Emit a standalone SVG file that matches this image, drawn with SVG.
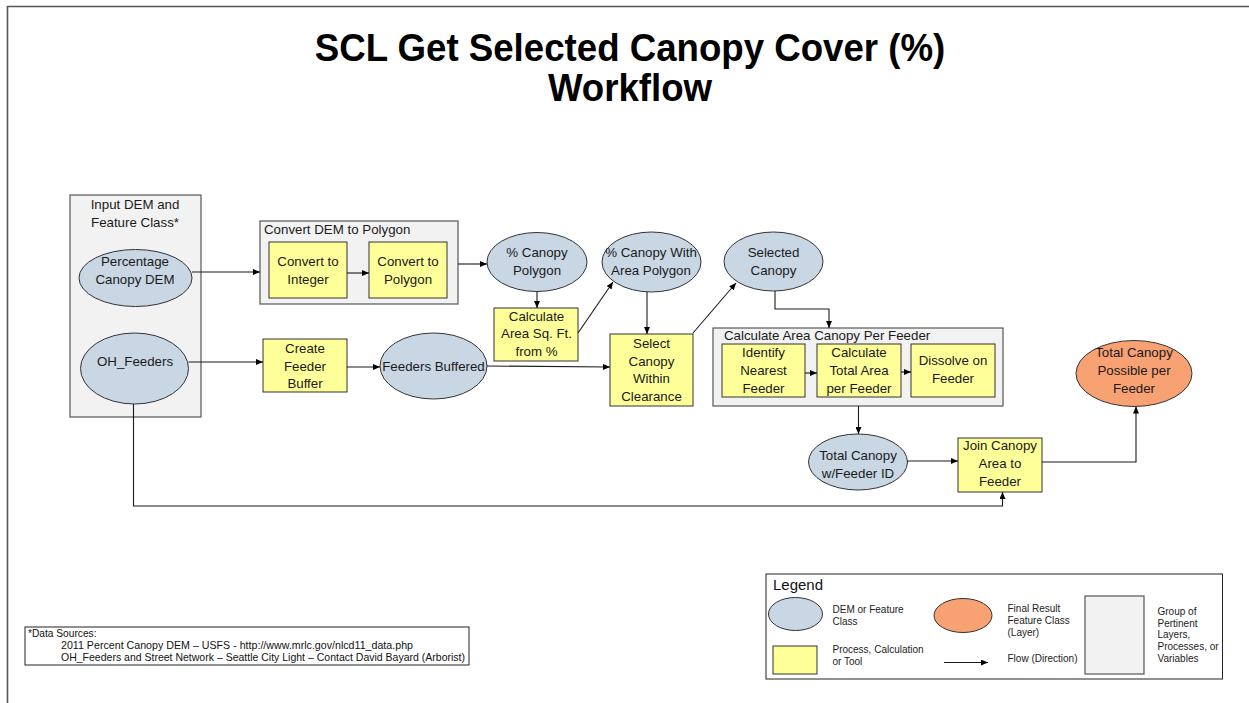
<svg xmlns="http://www.w3.org/2000/svg" width="1249" height="703" viewBox="0 0 1249 703">
<style>
.t{font-family:"Liberation Sans",Arial,sans-serif;font-size:13.3px;fill:#1a1a1a;text-anchor:middle}
.tl{font-family:"Liberation Sans",Arial,sans-serif;font-size:13.3px;fill:#1a1a1a}
.title{font-family:"Liberation Sans",Arial,sans-serif;font-size:39px;font-weight:bold;fill:#000;text-anchor:middle}
.grp{fill:#f2f2f2;stroke:#555;stroke-width:1.2}
.data{fill:#c9d6e4;stroke:#333;stroke-width:1}
.proc{fill:#ffff99;stroke:#333;stroke-width:1}
.fin{fill:#f8a173;stroke:#333;stroke-width:1}
.c{fill:none;stroke:#1a1a1a;stroke-width:1.1;marker-end:url(#arr)}
.lg{font-family:"Liberation Sans",Arial,sans-serif;font-size:10px;fill:#222}
.ds{font-family:"Liberation Sans",Arial,sans-serif;font-size:10.2px;fill:#111}
</style>
<defs>
<marker id="arr" markerWidth="7" markerHeight="6" refX="7" refY="3" orient="auto" markerUnits="userSpaceOnUse"><path d="M0,0 L7,3 L0,6 z" fill="#000"/></marker>
</defs>
<rect x="0" y="0" width="1249" height="703" fill="#fff"/>
<path d="M7.5,703 V6.5 H1249" fill="none" stroke="#555" stroke-width="1.6"/>
<text class="title" transform="translate(630,61) scale(0.94,1)" x="0" y="0">SCL Get Selected Canopy Cover (%)</text>
<text class="title" transform="translate(630,101) scale(0.94,1)" x="0" y="0">Workflow</text>

<g id="grp-input">
<rect class="grp" x="70" y="195" width="131" height="222"/>
<text class="t" x="135" y="209">Input DEM and</text>
<text class="t" x="135" y="227">Feature Class*</text>
</g>
<g id="grp-convert">
<rect class="grp" x="260" y="221" width="198" height="83"/>
<text class="tl" x="264" y="234">Convert DEM to Polygon</text>
</g>
<g id="grp-calc">
<rect class="grp" x="713" y="328" width="290" height="78"/>
<text class="tl" x="724" y="340">Calculate Area Canopy Per Feeder</text>
</g>

<g id="n-pcdem">
<ellipse class="data" cx="135.5" cy="278" rx="56.5" ry="28.5"/>
<text class="t" x="135" y="266">Percentage</text>
<text class="t" x="135" y="283.5">Canopy DEM</text>
</g>
<g id="n-oh">
<ellipse class="data" cx="134.5" cy="368.5" rx="54" ry="35.5"/>
<text class="t" x="135" y="366">OH_Feeders</text>
</g>
<g id="n-int">
<rect class="proc" x="269" y="242" width="78" height="56"/>
<text class="t" x="308" y="266">Convert to</text>
<text class="t" x="308" y="283.5">Integer</text>
</g>
<g id="n-poly">
<rect class="proc" x="369" y="242" width="78" height="56"/>
<text class="t" x="408" y="266">Convert to</text>
<text class="t" x="408" y="283.5">Polygon</text>
</g>
<g id="n-buffer">
<rect class="proc" x="263" y="339" width="84" height="53"/>
<text class="t" x="305" y="353">Create</text>
<text class="t" x="305" y="370.5">Feeder</text>
<text class="t" x="305" y="388">Buffer</text>
</g>
<g id="n-fb">
<ellipse class="data" cx="433.5" cy="366" rx="53.5" ry="33"/>
<text class="t" x="433.5" y="370.5">Feeders Buffered</text>
</g>
<g id="n-cp">
<ellipse class="data" cx="537" cy="262" rx="50" ry="29.5"/>
<text class="t" x="537" y="257">% Canopy</text>
<text class="t" x="537" y="275">Polygon</text>
</g>
<g id="n-cwap">
<ellipse class="data" cx="651.5" cy="262" rx="49.5" ry="30"/>
<text class="t" x="651" y="257">% Canopy With</text>
<text class="t" x="651" y="275">Area Polygon</text>
</g>
<g id="n-sel">
<ellipse class="data" cx="773.5" cy="261.5" rx="49.5" ry="29.5"/>
<text class="t" x="773.5" y="257">Selected</text>
<text class="t" x="773.5" y="275">Canopy</text>
</g>
<g id="n-area">
<rect class="proc" x="494" y="308" width="84" height="53"/>
<text class="t" x="536.5" y="320.5">Calculate</text>
<text class="t" x="536.5" y="338">Area Sq. Ft.</text>
<text class="t" x="536.5" y="356">from %</text>
</g>
<g id="n-select">
<rect class="proc" x="610" y="334" width="83" height="72"/>
<text class="t" x="651.5" y="347.5">Select</text>
<text class="t" x="651.5" y="365.5">Canopy</text>
<text class="t" x="651.5" y="383">Within</text>
<text class="t" x="651.5" y="401">Clearance</text>
</g>
<g id="n-ident">
<rect class="proc" x="722" y="344" width="83" height="53"/>
<text class="t" x="763.5" y="357">Identify</text>
<text class="t" x="763.5" y="375">Nearest</text>
<text class="t" x="763.5" y="392.5">Feeder</text>
</g>
<g id="n-total">
<rect class="proc" x="817" y="344" width="84" height="53"/>
<text class="t" x="859" y="357">Calculate</text>
<text class="t" x="859" y="375">Total Area</text>
<text class="t" x="859" y="392.5">per Feeder</text>
</g>
<g id="n-dissolve">
<rect class="proc" x="911" y="344" width="84" height="53"/>
<text class="t" x="953" y="365">Dissolve on</text>
<text class="t" x="953" y="383">Feeder</text>
</g>
<g id="n-tcf">
<ellipse class="data" cx="858" cy="462" rx="49.5" ry="28"/>
<text class="t" x="858" y="460">Total Canopy</text>
<text class="t" x="858" y="477.5">w/Feeder ID</text>
</g>
<g id="n-join">
<rect class="proc" x="958" y="438" width="84" height="54"/>
<text class="t" x="1000" y="450">Join Canopy</text>
<text class="t" x="1000" y="468">Area to</text>
<text class="t" x="1000" y="486">Feeder</text>
</g>
<g id="n-final">
<ellipse class="fin" cx="1134" cy="373.5" rx="58" ry="33"/>
<text class="t" x="1134" y="357">Total Canopy</text>
<text class="t" x="1134" y="375">Possible per</text>
<text class="t" x="1134" y="392.5">Feeder</text>
</g>

<g id="connectors">
<path class="c" d="M192,272 H260"/>
<path class="c" d="M347,273 H369"/>
<path class="c" d="M458,264 H487"/>
<path class="c" d="M188.5,362 H263"/>
<path class="c" d="M347,367 H380"/>
<path class="c" d="M537,291.5 V308"/>
<path class="c" d="M578,333 L613,282"/>
<path class="c" d="M647,292 V334"/>
<path class="c" d="M487,366 L610,367"/>
<path class="c" d="M693,333 L736,283"/>
<path class="c" d="M775,291 V309 H829 V328"/>
<path class="c" d="M805,373 H817"/>
<path class="c" d="M901,372 H911"/>
<path class="c" d="M858.5,406 V434"/>
<path class="c" d="M907.5,461 H958"/>
<path class="c" d="M1042,462 H1136 V406.5"/>
<path class="c" d="M133.5,404 V506 H1002.5 V492"/>
</g>

<g id="datasources">
<rect x="25" y="627" width="444" height="38" fill="#fff" stroke="#222" stroke-width="1"/>
<text class="ds" x="28" y="637">*Data Sources:</text>
<text class="ds" x="61" y="649" textLength="352" lengthAdjust="spacingAndGlyphs">2011 Percent Canopy DEM – USFS - http://www.mrlc.gov/nlcd11_data.php</text>
<text class="ds" x="61" y="660.5" textLength="404" lengthAdjust="spacingAndGlyphs">OH_Feeders and Street Network – Seattle City Light – Contact David Bayard (Arborist)</text>
</g>

<g id="legend">
<rect x="766" y="574" width="456.5" height="105" fill="#fff" stroke="#222" stroke-width="1"/>
<text x="773" y="589.5" font-family="Liberation Sans, Arial, sans-serif" font-size="15" fill="#111">Legend</text>
<ellipse class="data" cx="795.5" cy="614" rx="27" ry="16.5"/>
<text class="lg" x="832.5" y="612.5">DEM or Feature</text>
<text class="lg" x="832.5" y="624.5">Class</text>
<ellipse class="fin" cx="963" cy="615.5" rx="29" ry="17"/>
<text class="lg" x="1007.5" y="611.5">Final Result</text>
<text class="lg" x="1007.5" y="624">Feature Class</text>
<text class="lg" x="1007.5" y="636">(Layer)</text>
<rect class="grp" x="1085" y="596" width="59" height="78"/>
<text class="lg" x="1157.5" y="615">Group of</text>
<text class="lg" x="1157.5" y="626.5">Pertinent</text>
<text class="lg" x="1157.5" y="638">Layers,</text>
<text class="lg" x="1157.5" y="649.5">Processes, or</text>
<text class="lg" x="1157.5" y="661.5">Variables</text>
<rect class="proc" x="773" y="646" width="44" height="28"/>
<text class="lg" x="832.5" y="653">Process, Calculation</text>
<text class="lg" x="832.5" y="665">or Tool</text>
<path class="c" d="M944,662.5 H988"/>
<text class="lg" x="1007.5" y="662">Flow (Direction)</text>
</g>
</svg>
